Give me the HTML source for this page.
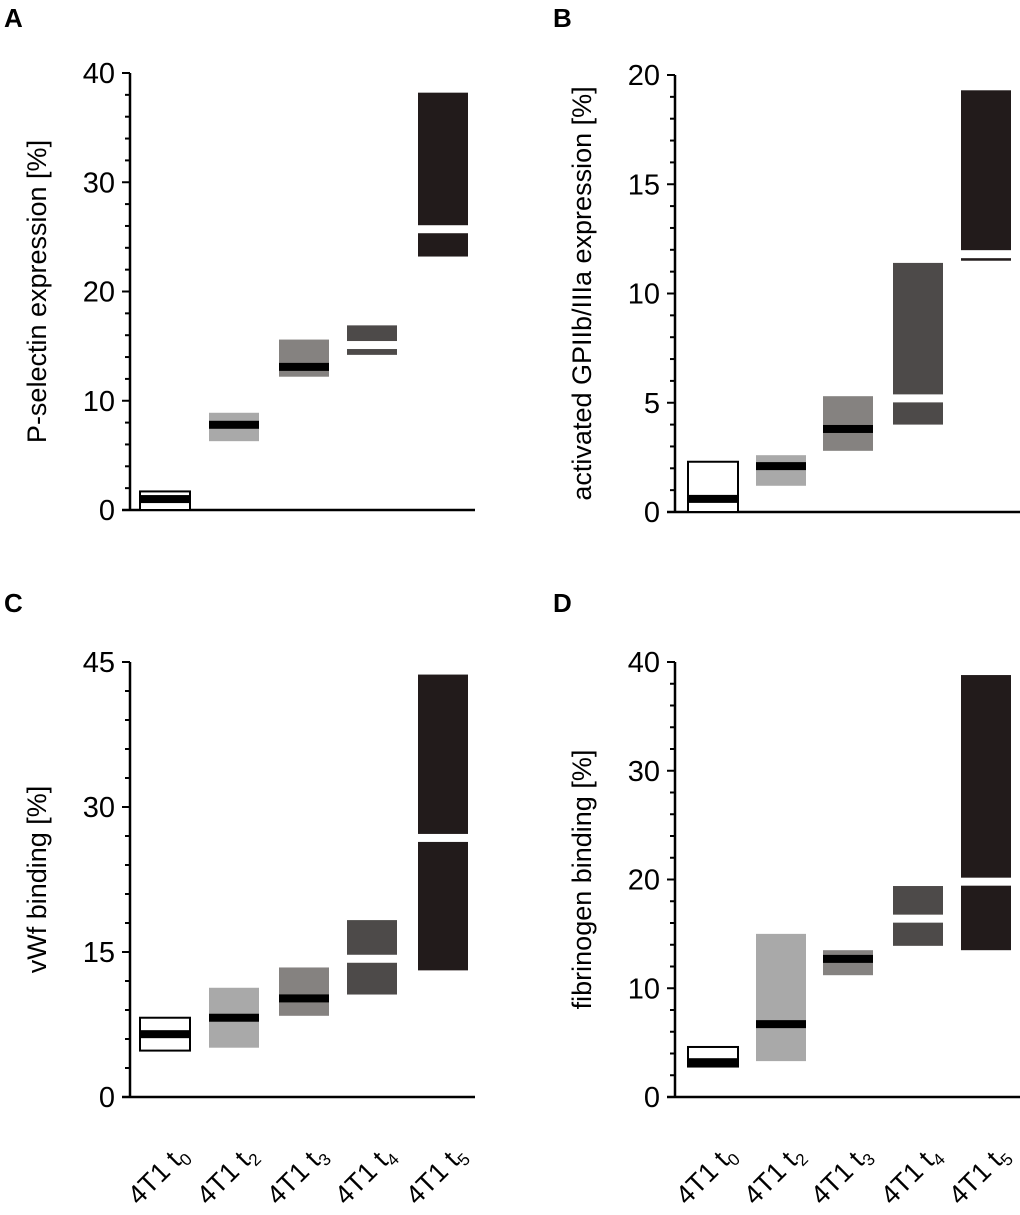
<!DOCTYPE html>
<html><head><meta charset="utf-8"><style>
body{margin:0;background:#fff}
svg{display:block;font-family:"Liberation Sans",Arial,sans-serif}
</style></head><body>
<svg id="fig" width="1020" height="1215" viewBox="0 0 1020 1215">
<text x="4" y="27" font-size="26" font-weight="bold">A</text>
<text x="553" y="27" font-size="26" font-weight="bold">B</text>
<text x="4" y="612" font-size="26" font-weight="bold">C</text>
<text x="553" y="612" font-size="26" font-weight="bold">D</text>
</svg>
<script>
const categories = ["t0","t2","t3","t4","t5"];
const fills = ["#ffffff","#a9a9a9","#858280","#4d4a49","#221b1b"];
const medColors = ["#000","#000","#000","#fff","#fff"];
const aLow = [0,6.3,12.2,14.2,23.2], aHigh=[1.7,8.9,15.6,16.9,38.2], aMed=[1.0,7.8,13.1,15.1,25.7];
const bLow = [0,1.2,2.8,4.0,11.5], bHigh=[2.3,2.6,5.3,11.4,19.3], bMed=[0.6,2.1,3.8,5.2,11.8];
const cLow = [4.8,5.1,8.4,10.6,13.1], cHigh=[8.2,11.3,13.4,18.3,43.7], cMed=[6.5,8.2,10.2,14.3,26.8];
const dLow = [2.8,3.3,11.2,13.9,13.5], dHigh=[4.6,15.0,13.5,19.4,38.8], dMed=[3.2,6.7,12.7,16.4,19.8];
const aTicks=[0,10,20,30,40], bTicks=[0,5,10,15,20], cTicks=[0,15,30,45], dTicks=[0,10,20,30,40];
const svg=document.getElementById('fig');
const NS='http://www.w3.org/2000/svg';
function mk(t,a,p){const e=document.createElementNS(NS,t);for(const k in a)e.setAttribute(k,a[k]);(p||svg).appendChild(e);return e;}
function panel(id,ax,y0,yTop,max,ticks,minor,low,high,med,title,boxX,labels){
  const g=mk('g',{});
  
  
  const y=v=>y0-(v/max)*(y0-yTop);
  const ln=mk('line',{x1:ax,y1:y0,x2:ax,y2:yTop,stroke:'#000','stroke-width':2.5},g);
  
  
  const xl=mk('line',{x1:ax-8,y1:y0,x2:ax+345,y2:y0,stroke:'#000','stroke-width':2.5},g);
  
  
  for(let v=0;v<=max+1e-9;v+=minor){
    const isMaj=ticks.some(t=>Math.abs(t-v)<1e-6);
    const tk=mk('line',{x1:ax-(isMaj?8:5),y1:y(v),x2:ax,y2:y(v),stroke:'#000','stroke-width':2},g);
    
    
  }
  ticks.forEach(t=>{
    const tx=mk('text',{x:ax-15,y:y(t)+10,'font-size':29,'text-anchor':'end'},g);
    tx.textContent=t;
    
    
  });
  const tt=mk('text',{x:0,y:0,'font-size':27,'text-anchor':'middle',transform:`translate(${ax-84},${(y0+yTop)/2}) rotate(-90)`},g);
  tt.textContent=title;
  
  
  categories.forEach((c,i)=>{
    const x=boxX[i];
    const r=mk('rect',{x:x,y:y(high[i]),width:50,height:y(low[i])-y(high[i]),fill:fills[i],stroke:i==0?'#000':'none','stroke-width':2},g);
    
    
    const m=mk('rect',{x:x+(i==0?1:0),y:y(med[i])-4,width:i==0?48:50,height:8,fill:medColors[i]},g);
    
    
    if(labels){
      const cx=x+25;
      const lt=mk('text',{x:0,y:0,'font-size':27,'text-anchor':'end',transform:`translate(${cx+24},${1156}) rotate(-45)`},g);
      lt.innerHTML='4T1 t<tspan font-size="17" dy="6">'+c.slice(1)+'</tspan>';
      
      
    }
  });
}
const left=[140,209,279,347,418], right=[688,756,823,893,961];
panel('a',130,510,73,40,aTicks,2,aLow,aHigh,aMed,'P-selectin expression [%]',left,false);
panel('b',675,512,75,20,bTicks,1,bLow,bHigh,bMed,'activated GPIIb/IIIa expression [%]',right,false);
panel('c',130,1097,662,45,cTicks,3,cLow,cHigh,cMed,'vWf binding [%]',left,true);
panel('d',675,1097,662,40,dTicks,2,dLow,dHigh,dMed,'fibrinogen binding [%]',right,true);
</script>
</body></html>
